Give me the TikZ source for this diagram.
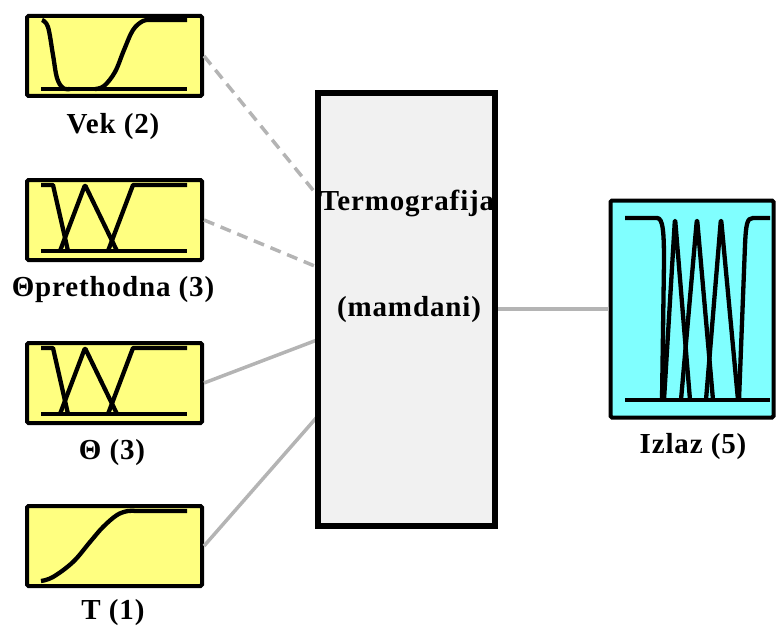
\documentclass[tikz,border=0pt]{standalone}
\usepackage{fontspec}
\setmainfont{Liberation Serif}[LetterSpace=3]
\definecolor{yfill}{RGB}{255,255,128}
\definecolor{cfill}{RGB}{128,255,255}
\definecolor{gfill}{RGB}{241,241,241}
\definecolor{cgray}{RGB}{180,180,180}
\begin{document}
\begin{tikzpicture}[x=1pt,y=-1pt,
  mfbox/.style={draw=black, line width=4pt, fill=yfill, rounded corners=1.5pt,
    minimum width=175pt, minimum height=80pt, inner sep=0pt},
  outbox/.style={draw=black, line width=4pt, fill=cfill, rounded corners=1.5pt,
    minimum width=163pt, minimum height=217pt, inner sep=0pt},
  fisbox/.style={draw=black, line width=4pt, fill=gfill,
    minimum width=175pt, minimum height=431pt, inner sep=0pt},
  mf/.style={line width=4.3pt, line join=round},
  lbl/.style={font=\fontsize{29}{32}\selectfont\bfseries, inner sep=0pt},
  conn/.style={draw=cgray, line width=3.5pt},
  dconn/.style={conn, dash pattern=on 11pt off 7pt}]
\useasboundingbox (0,0) rectangle (778,631);

\node[mfbox] (vek) at (114.5,56) {};
\node[mfbox] (thp) at (114.5,220) {};
\node[mfbox] (th) at (114.5,383) {};
\node[mfbox] (t) at (114.5,546) {};
\node[fisbox] (fis) at (406.5,309.5) {};
\node[outbox] (out) at (692,309) {};

\coordinate (e1) at (317,195);
\coordinate (e2) at (317,267);
\coordinate (e3) at (317,340);
\coordinate (e4) at (317,417);
\coordinate (eo) at (496,309);

\draw[dconn] (vek.east) -- (e1);
\draw[dconn] (thp.east) -- (e2);
\draw[conn] (th.east) -- (e3);
\draw[conn] (t.east) -- (e4);
\draw[conn] (eo) -- (out.west);

% redraw box borders on top of connector ends
\draw[line width=4pt] (fis.north west) rectangle (fis.south east);

% Vek (2)
\draw[mf] (41,89) -- (187,89);
\draw[mf] plot[smooth, tension=0.6] coordinates {(42,20) (48,27) (53,55) (57,78) (63,88) (70,89)};
\draw[mf] plot[smooth, tension=0.6] coordinates {(95,89) (104,86) (115,72) (124,50) (133,30) (143,21) (152,20)} -- (187,20);

% Theta prethodna (3)
\draw[mf] (41,251) -- (187,251);
\draw[mf] (41,185) -- (53,185) -- (68,251);
\draw[mf, rounded corners=1pt] (60,251) -- (85,185) -- (117,251);
\draw[mf] (108,251) -- (133,185) -- (187,185);

% Theta (3)
\draw[mf] (41,414) -- (187,414);
\draw[mf] (41,348) -- (53,348) -- (68,414);
\draw[mf, rounded corners=1pt] (60,414) -- (85,348) -- (117,414);
\draw[mf] (108,414) -- (133,348) -- (187,348);

% T (1)
\draw[mf] plot[smooth, tension=0.6] coordinates {(41,581) (53,577) (73,562) (90,542) (103,527) (117,515) (128,511) (135,511)} -- (187,511);

% Izlaz (5)
\draw[mf] (625,400) -- (770,400);
\draw[mf] (625,218) -- (657,218) .. controls (663,218) and (664,232) .. (664,262) -- (662,400);
\draw[mf, rounded corners=5pt] (664,400) -- (675,218) -- (690,400);
\draw[mf, rounded corners=5pt] (681,400) -- (697,218) -- (713,400);
\draw[mf, rounded corners=5pt] (706,400) -- (721,218) -- (738,400);
\draw[mf] (739,400) -- (745,245) .. controls (746,224) and (747,218) .. (753,218) -- (770,218);

% labels
\node[lbl] (lvek) at (113,127) {Vek (2)};
\node[lbl] (lthp) at (113,290) {Θprethodna (3)};
\node[lbl] (lth) at (112,453) {Θ (3)};
\node[lbl] (lt) at (113,613) {T (1)};
\node[lbl] (lout) at (693,447) {Izlaz (5)};
\node[lbl] (fis1) at (407,203) {Termografija};
\node[lbl] (fis2) at (409,310) {(mamdani)};
\end{tikzpicture}
\end{document}
